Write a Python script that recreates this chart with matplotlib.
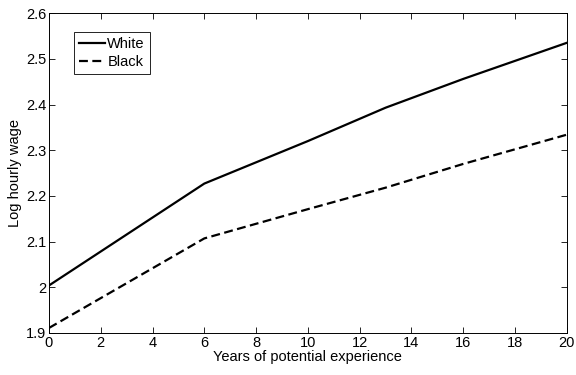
import matplotlib
matplotlib.use("Agg")
import matplotlib.pyplot as plt

# Experience profile of log hourly wages
experience = [0, 6, 10, 13, 16, 20]
white_wage = [2.004, 2.227, 2.320, 2.393, 2.456, 2.535]
black_wage = [1.911, 2.107, 2.171, 2.218, 2.270, 2.334]

x_ticks = list(range(0, 21, 2))
y_ticks = [1.9, 2.0, 2.1, 2.2, 2.3, 2.4, 2.5, 2.6]
y_tick_labels = ["1.9", "2", "2.1", "2.2", "2.3", "2.4", "2.5", "2.6"]

plt.rcParams["font.family"] = ["Liberation Sans", "DejaVu Sans"]
plt.rcParams["font.size"] = 10.5

fig = plt.figure(figsize=(5.76, 3.75), dpi=100)
ax = fig.add_axes([0.085, 0.112, 0.899, 0.853])

ax.plot(experience, white_wage, color="black", lw=1.6, label="White")
ax.plot(experience, black_wage, color="black", lw=1.6, ls=(0, (4, 2)), label="Black")

ax.set_xlim(0, 20)
ax.set_ylim(1.9, 2.6)
ax.set_xticks(x_ticks)
ax.set_yticks(y_ticks)
ax.set_yticklabels(y_tick_labels)
ax.tick_params(direction="in", top=True, right=True, length=4, width=0.6, pad=2)
for s in ax.spines.values():
    s.set_linewidth(0.7)

ax.set_xlabel("Years of potential experience", labelpad=0)
ax.set_ylabel("Log hourly wage", labelpad=3)

leg = ax.legend(loc="upper left", bbox_to_anchor=(0.048, 0.94), fontsize=10.5,
                fancybox=False, framealpha=1, edgecolor="black",
                handlelength=1.8, handletextpad=0.15, borderpad=0.35,
                labelspacing=0.25, borderaxespad=0)
leg.get_frame().set_linewidth(0.6)

fig.savefig("out.png", dpi=100)
